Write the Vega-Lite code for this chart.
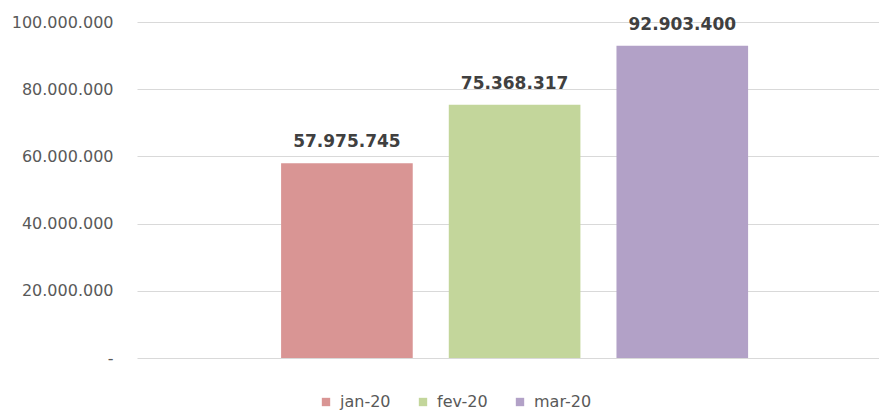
{
  "$schema": "https://vega.github.io/schema/vega-lite/v6.json",
  "width": 742,
  "height": 336,
  "autosize": {"type": "none"},
  "padding": {"left": 137, "top": 22, "right": 0, "bottom": 52},
  "background": "white",
  "config": {
    "locale": {"number": {"decimal": ",", "thousands": ".", "grouping": [3], "currency": ["", ""]}},
    "view": {"stroke": null},
    "font": "DejaVu Sans"
  },
  "data": {
    "values": [
      {"mes": "jan-20", "valor": 57975745},
      {"mes": "fev-20", "valor": 75368317},
      {"mes": "mar-20", "valor": 92903400}
    ]
  },
  "encoding": {
    "x": {
      "field": "mes", "type": "nominal", "sort": null,
      "scale": {"paddingInner": 0.215, "paddingOuter": 0.82, "align": 0.524},
      "axis": null
    },
    "y": {
      "field": "valor", "type": "quantitative",
      "scale": {"domain": [0, 100000000], "nice": false},
      "axis": {
        "values": [0, 20000000, 40000000, 60000000, 80000000, 100000000],
        "format": ",.0f",
        "labelExpr": "datum.value === 0 ? '-' : datum.label",
        "title": null,
        "domain": false,
        "ticks": false,
        "labelPadding": 24,
        "labelFontSize": 16,
        "labelColor": "#595959",
        "labelFont": "DejaVu Sans",
        "gridColor": "#d9d9d9",
        "gridWidth": 1
      }
    }
  },
  "layer": [
    {
      "mark": {"type": "bar"},
      "encoding": {
        "color": {
          "field": "mes", "type": "nominal", "sort": null,
          "scale": {"domain": ["jan-20", "fev-20", "mar-20"], "range": ["#D99594", "#C3D69B", "#B2A1C7"]},
          "legend": {
            "title": null,
            "orient": "none",
            "direction": "horizontal",
            "legendX": 181,
            "legendY": 372,
            "symbolType": "square",
            "symbolSize": 70,
            "symbolStrokeWidth": 0,
            "labelFontSize": 16,
            "labelColor": "#595959",
            "labelFont": "DejaVu Sans",
            "columnPadding": 24,
            "labelOffset": 6
          }
        }
      }
    },
    {
      "mark": {"type": "text", "baseline": "alphabetic", "dy": -16, "fontSize": 17, "fontWeight": "bold", "color": "#404040", "font": "DejaVu Sans"},
      "encoding": {
        "text": {"field": "valor", "type": "quantitative", "format": ",.0f"}
      }
    }
  ]
}
